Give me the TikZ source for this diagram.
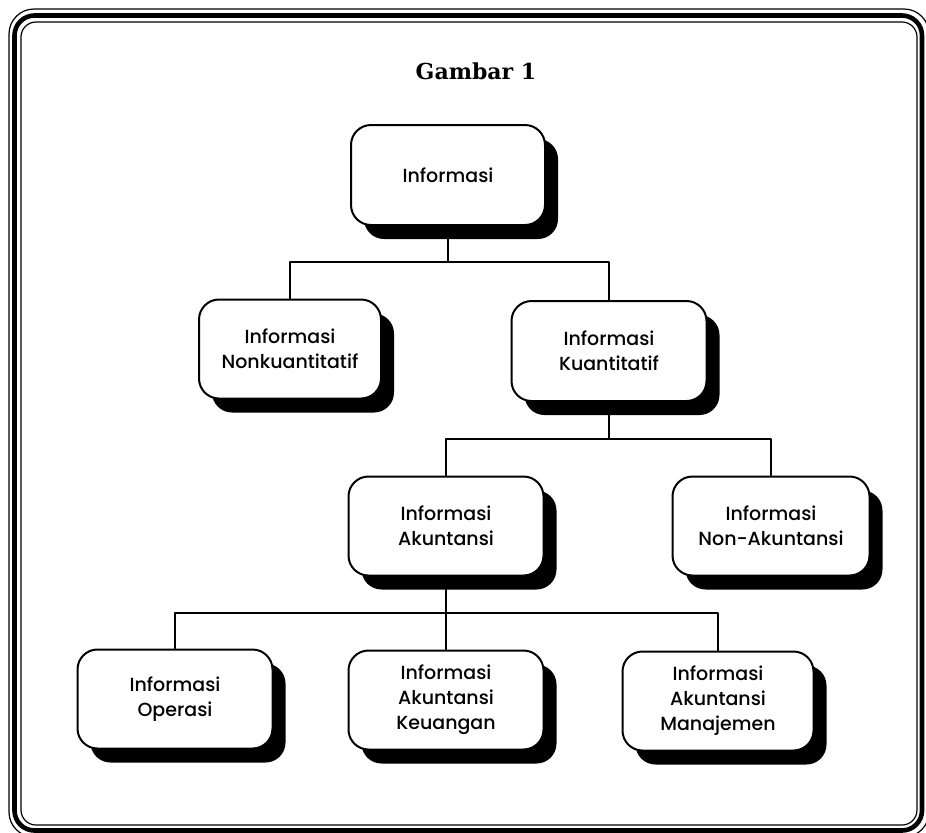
\documentclass[tikz,border=0pt]{standalone}
\usepackage{fontspec}
\setsansfont{Poppins}[UprightFont=* Medium]
\newfontfamily\judulfont{DejaVu Serif}
\usetikzlibrary{shadows}

\begin{document}
\begin{tikzpicture}[x=0.5pt, y=-0.5pt, line cap=round, line join=round,
  kotak/.style={draw=black, line width=1pt, fill=white, rounded corners=10pt,
    inner sep=0pt, minimum width=97.5pt, minimum height=49.5pt, align=center,
    font=\sffamily\fontsize{9.5}{12.5}\selectfont,
    drop shadow={shadow xshift=6.5pt, shadow yshift=-7pt, fill=black, opacity=1}},
  garis/.style={line width=0.8pt}]
  % Batas gambar dan bingkai
  \useasboundingbox (0,0) rectangle (926,832);
  \clip (0,0) rectangle (926,832);
  \fill[white] (0,0) rectangle (926,832);
  \draw[line width=0.6pt, rounded corners=12.5pt] (9,9) rectangle (929,837);
  \draw[line width=2.3pt, rounded corners=10pt] (14.5,15.5) rectangle (922,830.5);
  \draw[line width=0.6pt, rounded corners=7.5pt] (21,22) rectangle (917,825);

  % Judul
  \node[font=\judulfont\bfseries\fontsize{11}{13}\selectfont] (judul) at (476,71) {Gambar 1};

  % Kotak informasi
  \node[kotak, minimum width=97pt, minimum height=50pt] (info) at (448,175) {Informasi};
  \node[kotak, minimum width=91pt] (nonkuan) at (290,349) {Informasi\\Nonkuantitatif};
  \node[kotak, minimum height=50pt] (kuan) at (609,351) {Informasi\\Kuantitatif};
  \node[kotak] (akun) at (446,526) {Informasi\\Akuntansi};
  \node[kotak, minimum width=98.5pt] (nonakun) at (771,526) {Informasi\\Non-Akuntansi};
  \node[kotak] (operasi) at (175,699) {Informasi\\Operasi};
  \node[kotak] (keuangan) at (446,700) {Informasi\\Akuntansi\\Keuangan};
  \node[kotak, minimum width=95.5pt] (manajemen) at (718,701) {Informasi\\Akuntansi\\Manajemen};

  % Titik cabang
  \coordinate (c1) at (448,262);
  \coordinate (c2) at (609,439);
  \coordinate (c3) at (446,613);

  % Garis penghubung
  \draw[garis] (info.south) -- (c1);
  \draw[garis] (nonkuan.north) |- (c1) -| (kuan.north);
  \draw[garis] (kuan.south) -- (c2);
  \draw[garis] (akun.north) |- (c2) -| (nonakun.north);
  \draw[garis] (akun.south) -- (c3);
  \draw[garis] (operasi.north) |- (c3) -| (manajemen.north);
  \draw[garis] (c3) -- (keuangan.north);
\end{tikzpicture}
\end{document}
